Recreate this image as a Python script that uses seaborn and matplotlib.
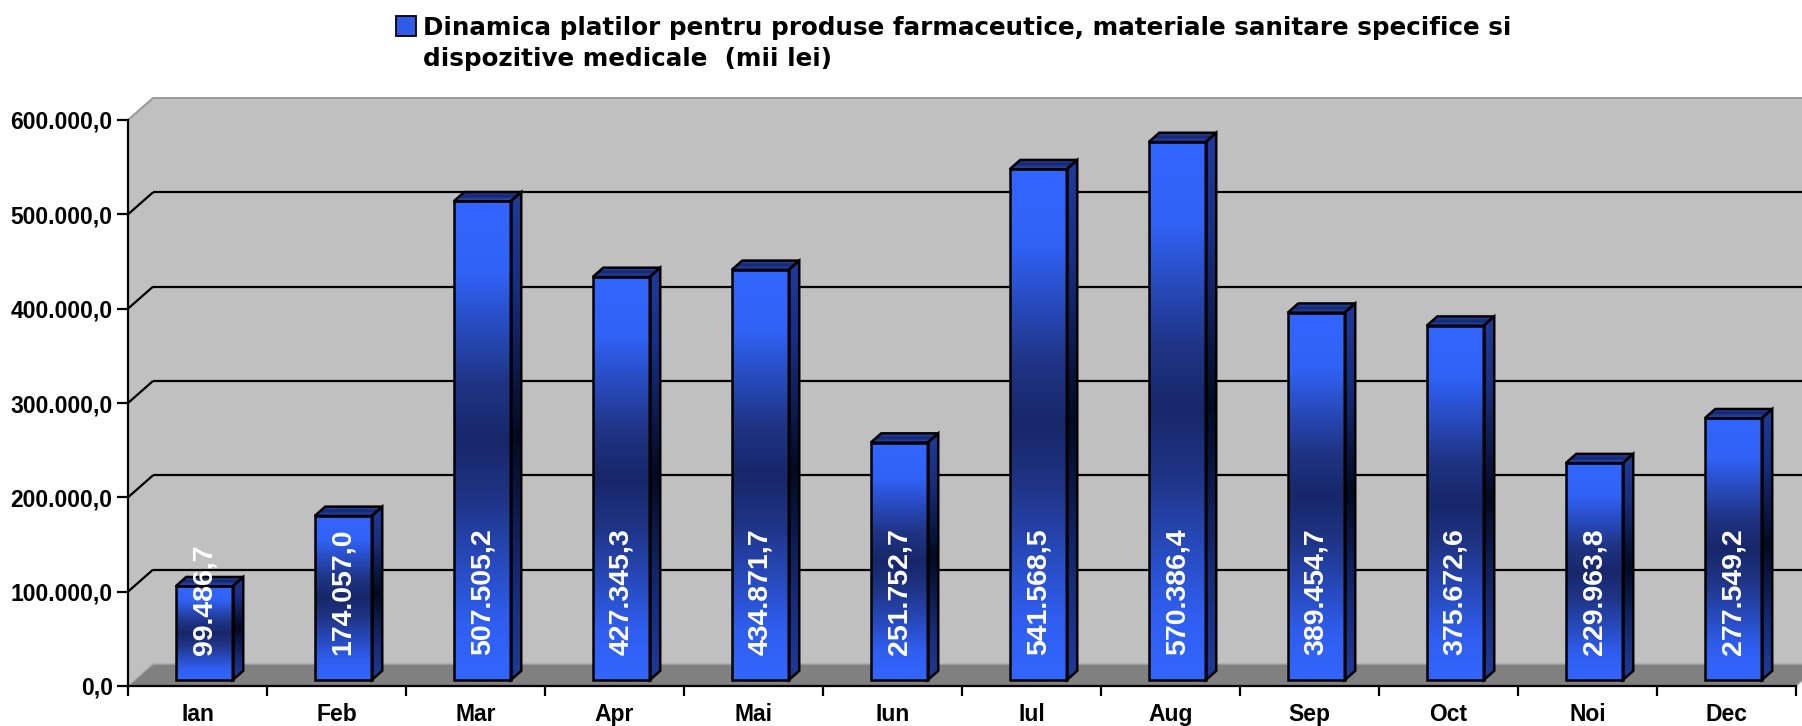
import numpy as np
import pandas as pd
import matplotlib
matplotlib.use("Agg")
import matplotlib.pyplot as plt
from matplotlib.colors import LinearSegmentedColormap
from matplotlib.patches import Polygon, Rectangle
from matplotlib.ticker import FixedLocator, FuncFormatter
import seaborn as sns

# Monthly payments for pharmaceutical products, sanitary materials and medical devices (thousand lei)
months = ["Ian", "Feb", "Mar", "Apr", "Mai", "Iun", "Iul", "Aug", "Sep", "Oct", "Noi", "Dec"]
payments = [99486.7, 174057.0, 507505.2, 427345.3, 434871.7, 251752.7,
            541568.5, 570386.4, 389454.7, 375672.6, 229963.8, 277549.2]
y_ticks = [0, 100000, 200000, 300000, 400000, 500000, 600000]
title_lines = ["Dinamica platilor pentru produse farmaceutice, materiale sanitare specifice si",
               "dispozitive medicale  (mii lei)"]

W, H, DPI = 1802, 726, 100
AX_L, AX_R, AX_B, AX_T = 128, 1796, 686, 120      # plot frame in pixels (from top-left)
DEPTH_X, DEPTH_Y = 25, 22                          # 3D depth offset in pixels
Z0, Z1 = 0.27, 0.69                                # bar depth span (fraction of floor depth)
BAR_W = 0.41
Y_MAX = y_ticks[-1]


def ro_number(v):
    s = f"{v:,.1f}"
    return s.replace(",", "#").replace(".", ",").replace("#", ".")


sns.set_style("white")
plt.rcParams["font.family"] = ["Liberation Sans", "DejaVu Sans"]
plt.rcParams["font.weight"] = "bold"

fig = plt.figure(figsize=(W / DPI, H / DPI), dpi=DPI)
ax = fig.add_axes([AX_L / W, (H - AX_B) / H, (AX_R - AX_L) / W, (AX_B - AX_T) / H])

df = pd.DataFrame({"luna": months, "plati": payments})
sns.barplot(data=df, x="luna", y="plati", width=BAR_W, color="#3366FF",
            edgecolor="black", linewidth=1.8, ax=ax)

n = len(months)
xlim = (-0.5, n - 0.5)
ylim = (0, Y_MAX)
DX = DEPTH_X * (xlim[1] - xlim[0]) / (AX_R - AX_L)
DY = DEPTH_Y * (ylim[1] - ylim[0]) / (AX_B - AX_T)

front_cmap = LinearSegmentedColormap.from_list(
    "front", [(0.0, "#3366FF"), (0.12, "#2F5EF0"), (0.38, "#1F3485"), (0.5, "#17276A"),
              (0.62, "#1F3485"), (0.85, "#3062F6"), (1.0, "#3366FF")])
side_cmap = LinearSegmentedColormap.from_list(
    "side", [(0.0, "#1F3A9A"), (0.2, "#162B78"), (0.5, "#020A22"),
             (0.8, "#172D80"), (1.0, "#1F3A9A")])
top_cmap = LinearSegmentedColormap.from_list(
    "top", [(0.0, "#2D50C0"), (0.5, "#142670"), (1.0, "#2D50C0")])
grad = np.linspace(0, 1, 256).reshape(-1, 1)

# walls and floor
x0w, x1w = xlim[0], xlim[1]
back_wall = Polygon([(x0w + DX, DY), (x1w + DX, DY), (x1w + DX, Y_MAX + DY), (x0w + DX, Y_MAX + DY)],
                    closed=True, facecolor="#C0C0C0", edgecolor="none", zorder=0.1, clip_on=False)
side_wall = Polygon([(x0w, 0), (x0w + DX, DY), (x0w + DX, Y_MAX + DY), (x0w, Y_MAX)],
                    closed=True, facecolor="#C0C0C0", edgecolor="none", zorder=0.1, clip_on=False)
floor = Polygon([(x0w, 0), (x1w, 0), (x1w + DX, DY), (x0w + DX, DY)],
                closed=True, facecolor="#808080", edgecolor="none", zorder=0.2, clip_on=False)
for p in (back_wall, side_wall, floor):
    ax.add_patch(p)

ax.plot([x0w, x0w + DX, x1w + DX], [Y_MAX, Y_MAX + DY, Y_MAX + DY], color="#999999", lw=1.4,
        zorder=0.3, clip_on=False, solid_joinstyle="miter")
ax.plot([x0w, x0w + DX, x1w + DX], [0, DY, DY], color="#A8A8A8", lw=1.0, zorder=0.3, clip_on=False)
ax.plot([x1w, x1w + DX], [0, DY], color="#A8A8A8", lw=1.0, zorder=0.3, clip_on=False)

for v in y_ticks[1:-1]:
    ax.plot([x0w + DX, x1w + DX], [v + DY, v + DY], color="black", lw=1.6, zorder=0.5,
            clip_on=False, solid_capstyle="butt")
    ax.plot([x0w, x0w + DX], [v, v + DY], color="black", lw=1.6, zorder=0.5,
            clip_on=False, solid_capstyle="butt")

# 3D bars: front face from seaborn, side and top faces added
dd_x, dd_y = (Z1 - Z0) * DX, (Z1 - Z0) * DY
bars = [p for p in ax.patches if isinstance(p, Rectangle)]
for bar, value in zip(bars, payments):
    bar.set_x(bar.get_x() + Z0 * DX)
    bar.set_y(Z0 * DY)
    xl, w = bar.get_x(), bar.get_width()
    xr = xl + w
    yb = Z0 * DY
    yt = yb + bar.get_height()

    im = ax.imshow(grad, extent=(xl, xr, yb, yt), origin="lower", aspect="auto",
                   cmap=front_cmap, interpolation="bilinear", zorder=3)
    im.set_clip_path(bar)
    bar.set_facecolor("none")
    bar.set_zorder(3.2)

    side = Polygon([(xr, yb), (xr + dd_x, yb + dd_y), (xr + dd_x, yt + dd_y), (xr, yt)],
                   closed=True, facecolor="none", edgecolor="black", lw=1.8, zorder=3.2,
                   joinstyle="miter")
    ax.add_patch(side)
    im_s = ax.imshow(grad, extent=(xr, xr + dd_x, yb, yt + dd_y), origin="lower", aspect="auto",
                     cmap=side_cmap, interpolation="bilinear", zorder=3)
    im_s.set_clip_path(side)

    top = Polygon([(xl, yt), (xr, yt), (xr + dd_x, yt + dd_y), (xl + dd_x, yt + dd_y)],
                  closed=True, facecolor="none", edgecolor="black", lw=1.8, zorder=3.2,
                  joinstyle="miter")
    ax.add_patch(top)
    im_t = ax.imshow(grad, extent=(xl, xr + dd_x, yt, yt + dd_y), origin="lower", aspect="auto",
                     cmap=top_cmap, interpolation="bilinear", zorder=3)
    im_t.set_clip_path(top)

    ax.annotate(ro_number(value), xy=(xl + w / 2, yb), xytext=(0, 18), textcoords="offset points",
                rotation=90, ha="center", va="bottom", color="white", fontsize=20.5,
                fontweight="bold", zorder=6, annotation_clip=False)

ax.set_xlim(*xlim)
ax.set_ylim(*ylim)
ax.set_xlabel("")
ax.set_ylabel("")

# axes
for side_name in ("top", "right"):
    ax.spines[side_name].set_visible(False)
for side_name in ("left", "bottom"):
    ax.spines[side_name].set_color("black")
    ax.spines[side_name].set_linewidth(1.6)
    ax.spines[side_name].set_zorder(4)

ax.yaxis.set_major_locator(FixedLocator(y_ticks))
ax.yaxis.set_major_formatter(FuncFormatter(lambda v, pos: ro_number(v)))
ax.tick_params(axis="y", direction="out", length=8, width=1.6, pad=3, labelsize=16.5,
               colors="black", left=True)

ax.set_xticks(np.arange(-0.5, n, 1.0))
ax.set_xticklabels([])
ax.set_xticks(np.arange(n), minor=True)
ax.set_xticklabels(months, minor=True)
ax.tick_params(axis="x", which="major", direction="out", length=7, width=1.6, bottom=True,
               colors="black")
ax.tick_params(axis="x", which="minor", length=0, pad=12, labelsize=16.5, colors="black")

# legend-style title
fig.add_artist(Rectangle((396 / W, 1 - 36 / H), 20 / W, 20 / H, transform=fig.transFigure,
                         facecolor="#2F5BE8", edgecolor="black", lw=1.3))
fig.text(423 / W, 1 - 34.5 / H, title_lines[0], family="DejaVu Sans", fontweight="bold",
         fontsize=17.7, va="baseline", ha="left", color="black")
fig.text(423 / W, 1 - 66 / H, title_lines[1], family="DejaVu Sans", fontweight="bold",
         fontsize=17.7, va="baseline", ha="left", color="black")

fig.savefig("out.png", dpi=DPI)
